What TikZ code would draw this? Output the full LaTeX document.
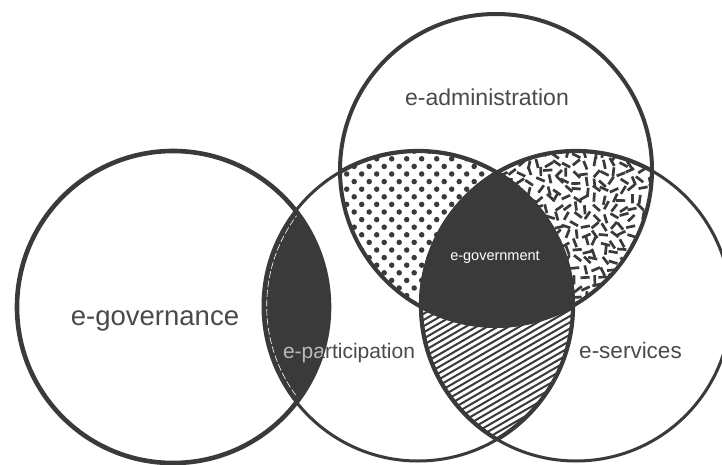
\documentclass[tikz,border=0pt]{standalone}
\usepackage{fontspec}
\setmainfont{Liberation Sans}
\definecolor{ink}{HTML}{3A3A3A}
\definecolor{labelgray}{HTML}{4A4A4A}
\definecolor{lightlabel}{HTML}{B8B8B8}
\begin{document}
\begin{tikzpicture}[x=1pt,y=-1pt,
  setlabel/.style={inner sep=0pt, anchor=base, text=labelgray},
  thinrim/.style={draw=ink, line width=3.0},
  thickrim/.style={draw=ink, line width=4.2}]
\useasboundingbox (0,0) rectangle (722,465);
\fill[white] (0,0) rectangle (722,465);
\clip (0,0) rectangle (722,465);

% centres and radii of the four sets
\coordinate (cG) at (173,307);   % e-governance
\coordinate (cP) at (418,306);   % e-participation
\coordinate (cS) at (576,306);   % e-services
\coordinate (cA) at (496,170);   % e-administration
\def\rG{156}\def\rP{155}\def\rS{155}\def\rA{156}

% administration & participation only: dots
\begin{scope}
  \clip (cA) circle[radius=\rA];
  \clip (cP) circle[radius=\rP];
  \foreach \j in {-4,...,22}{
    \pgfmathsetmacro\yy{174+7.6*\j}
    \pgfmathsetmacro\xo{361.7+7.5*mod(\j+100,2)}
    \foreach \i in {-2,...,15}{
      \fill[ink] (\xo+15*\i,\yy) circle[radius=2.75];
    }
  }
\end{scope}

% administration & services only: scattered rods
\begin{scope}
  \clip (cA) circle[radius=\rA];
  \clip (cS) circle[radius=\rS];
  \pgfmathsetseed{2024}
  \foreach \j in {0,...,22}{
    \foreach \i in {0,...,26}{
      \pgfmathsetmacro\cx{418+9.3*\i+5*(rnd-0.5)}
      \pgfmathsetmacro\cy{146+8.8*\j+5*(rnd-0.5)}
      \pgfmathsetmacro\anga{180*rnd}
      \pgfmathsetmacro\angb{\anga+180}
      \draw[ink, line width=2.7] (\cx,\cy) ++(\anga:4.6) -- ++(\angb:9.2);
    }
  }
\end{scope}

% participation & services: diagonal hatching
\begin{scope}
  \clip (cP) circle[radius=\rP];
  \clip (cS) circle[radius=\rS];
  \foreach \k in {0,...,70}{
    \draw[ink, line width=2.0] (400,{160+6.2*\k}) -- ++(220,-127);
  }
\end{scope}

% governance & participation lens
\begin{scope}
  \clip (cG) circle[radius=\rG];
  \fill[ink] (cP) circle[radius=\rP];
  \draw[white, line width=0.6, dash pattern=on 7pt off 2.5pt] (cP) circle[radius=151.3];
\end{scope}

% core: administration, participation and services
\begin{scope}
  \clip (cA) circle[radius=\rA];
  \clip (cP) circle[radius=\rP];
  \fill[ink] (cS) circle[radius=\rS];
\end{scope}

% outlines
\path[thinrim] (cP) circle[radius=\rP];
\path[thinrim] (cS) circle[radius=\rS];
\begin{scope}
  \clip (cA) circle[radius=\rA];
  \path[thickrim] (cP) circle[radius=\rP];
  \path[thickrim] (cS) circle[radius=\rS];
\end{scope}
\begin{scope}
  \clip (cS) circle[radius=\rS];
  \path[thickrim] (cP) circle[radius=\rP];
\end{scope}
\begin{scope}
  \clip (cP) circle[radius=\rP];
  \path[thickrim] (cS) circle[radius=\rS];
\end{scope}
\draw[ink, line width=4.0] (cA) circle[radius=\rA];
\draw[ink, line width=4.6] (cG) circle[radius=\rG];

% labels
\node[setlabel, font=\fontsize{27.5}{30}\selectfont] (gov) at (155,325) {e-governance};
\node[setlabel, font=\fontsize{23}{26}\selectfont] (adm) at (487,106) {e-administration};
\node[setlabel, font=\fontsize{21}{24}\selectfont] (par) at (349,358.3) {e-participation};
\begin{scope}
  \clip (cG) circle[radius=\rG];
  \clip (cP) circle[radius=\rP];
  \node[setlabel, text=lightlabel, font=\fontsize{21}{24}\selectfont] (parlit) at (349,358.3) {e-participation};
\end{scope}
\node[setlabel, font=\fontsize{22.5}{25}\selectfont] (ser) at (630.5,358) {e-services};
\node[setlabel, text=white, font=\fontsize{14.5}{16}\selectfont] (egv) at (495,260) {e-government};
\end{tikzpicture}
\end{document}
